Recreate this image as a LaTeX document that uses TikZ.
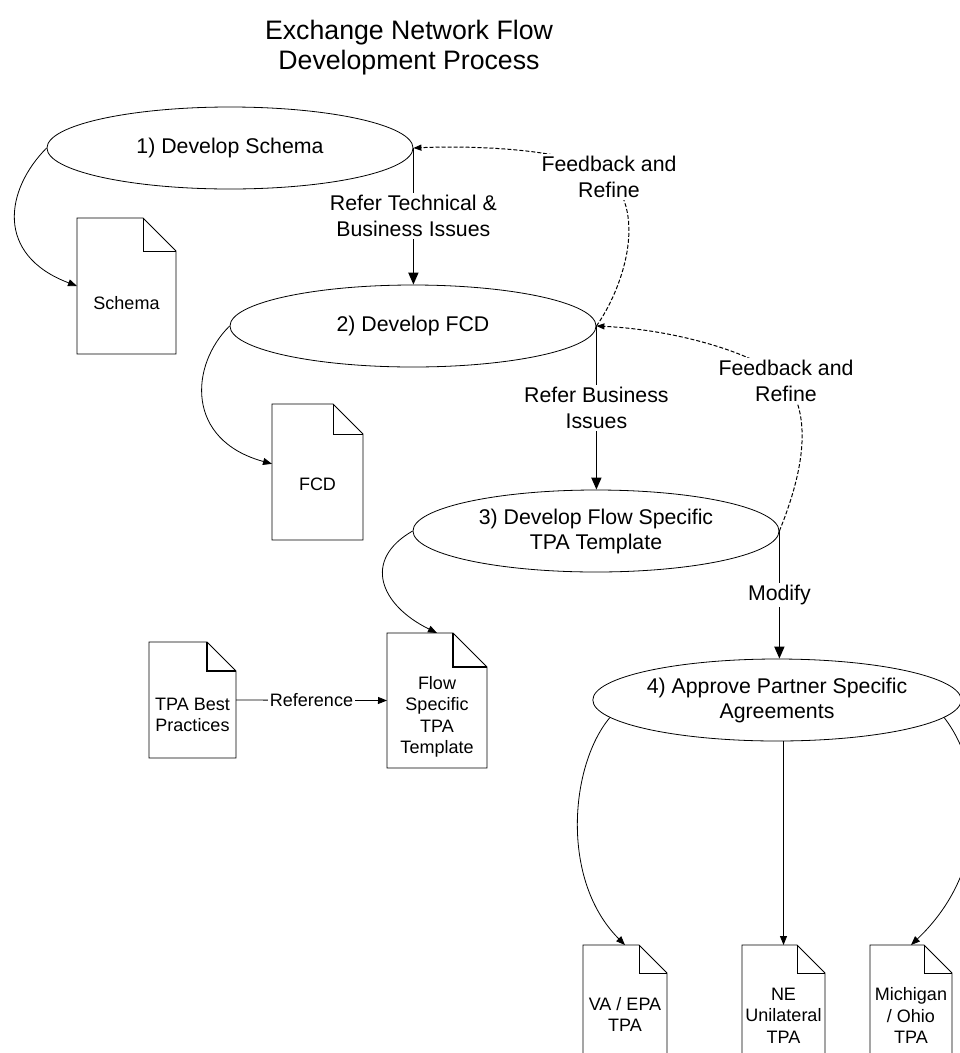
\documentclass[tikz,border=0pt]{standalone}
\usepackage{fontspec}
\setmainfont{Liberation Sans}
\usetikzlibrary{shapes.geometric,arrows.meta,calc}
\tikzset{
  proc/.style={ellipse, draw, line width=0.8pt, minimum width=366pt, minimum height=82pt,
    inner sep=0pt, align=center, font=\fontsize{21.3}{25}\selectfont},
  lbl/.style={align=center, font=\fontsize{21.3}{26}\selectfont, fill=white, inner sep=2pt},
  titlefont/.style={align=center, font=\fontsize{26.7}{30}\selectfont, inner sep=0pt},
  doctext/.style={align=center, font=\fontsize{18}{21.5}\selectfont, inner sep=0pt},
  docbox/.style={inner sep=0pt, outer sep=0pt, draw=none},
  docline/.style={line width=0.8pt},
  mainarrow/.style={line width=1.6pt, -{Triangle[length=12pt,width=10pt]}},
  curvearrow/.style={line width=0.8pt, -{Triangle[length=9pt,width=7pt]}},
  fbline/.style={line width=1pt, dash pattern=on 4pt off 2pt, -{Triangle[length=8pt,width=6pt]}},
}
% #1 fold line width, #2 node name, #3 fold size
\newcommand\docoutline[3][0.8pt]{%
  \draw[docline] (#2.north west) -- ($(#2.north east)+(-#3,0)$) -- ($(#2.north east)+(0,#3)$)
     -- (#2.south east) -- (#2.south west) -- cycle;
  \draw[line width=#1] ($(#2.north east)+(-#3,0)$) |- ($(#2.north east)+(0,#3)$);}
\begin{document}
\begin{tikzpicture}[x=1pt,y=-1pt]
\useasboundingbox (0,0) rectangle (960,1053);
\clip (0,0) rectangle (960,1053);

\node[titlefont] (title) at (409,48) {Exchange Network Flow\\Development Process};

% process ellipses
\node[proc] (e1) at (230,148) {1) Develop Schema};
\node[proc] (e2) at (413,326) {2) Develop FCD};
\node[proc] (e3) at (596,531) {3) Develop Flow Specific\\TPA Template};
\node[proc] (e4) at (777,700) {4) Approve Partner Specific\\Agreements};

% documents
\node[docbox, minimum width=99pt, minimum height=136pt] (schema) at (126.5,286) {};
\docoutline{schema}{33}
\node[doctext] (schema-t) at (126.5,303) {Schema};

\node[docbox, minimum width=91pt, minimum height=136pt] (fcd) at (317.5,472) {};
\docoutline{fcd}{30}
\node[doctext] (fcd-t) at (317.5,484) {FCD};

\node[docbox, minimum width=87pt, minimum height=116pt] (tpa) at (192.5,700) {};
\docoutline[1.6pt]{tpa}{29}
\node[doctext] (tpa-t) at (192.5,715) {TPA Best\\Practices};

\node[docbox, minimum width=100pt, minimum height=135pt] (flow) at (437,700.5) {};
\docoutline[1.6pt]{flow}{34}
\node[doctext] (flow-t) at (437,717) {Flow\\Specific\\TPA\\Template};

\node[docbox, minimum width=84pt, minimum height=112pt] (va) at (625,1001) {};
\docoutline{va}{28}
\node[doctext] (va-t) at (625,1014.5) {VA / EPA\\TPA};

\node[docbox, minimum width=83pt, minimum height=112pt] (ne) at (783.5,1001) {};
\docoutline{ne}{28}
\node[doctext] (ne-t) at (783.5,1015.5) {NE\\Unilateral\\TPA};

\node[docbox, minimum width=82pt, minimum height=112pt] (mi) at (911,1001) {};
\docoutline{mi}{28}
\node[doctext] (mi-t) at (911,1015.5) {Michigan\\/ Ohio\\TPA};

% main flow arrows
\draw[mainarrow] (e1.east) -- (e1.east |- e2.north)
  node[midway, lbl] {Refer Technical \&\\Business Issues};
\draw[mainarrow] (e2.east) -- (e2.east |- e3.north)
  node[midway, lbl] {Refer Business\\Issues};
\draw[mainarrow] (e3.east) -- (e3.east |- e4.north)
  node[midway, lbl] {Modify};

% feedback loops
\coordinate (fb1c) at (609,177);
\draw[fbline] (e2.east) .. controls (622,290) and (648,215) .. (fb1c)
  .. controls (585,150) and (480,145) .. (e1.east);
\node[lbl] (fb1) at (fb1c) {Feedback and\\Refine};

\coordinate (fb2c) at (786,381);
\draw[fbline] (e3.east) .. controls (800,480) and (815,420) .. (fb2c)
  .. controls (760,355) and (680,330) .. (e2.east);
\node[lbl] (fb2) at (fb2c) {Feedback and\\Refine};

% outputs
\draw[curvearrow] (e1.west) .. controls (5,190) and (-5,255) .. (schema.west);
\draw[curvearrow] (e2.west) .. controls (190,365) and (185,440) .. ($(fcd.north west)!0.44!(fcd.south west)$);
\draw[curvearrow] (e3.west) .. controls (362,560) and (380,605) .. (flow.north);
\draw[curvearrow] (tpa.east) -- (flow.west)
  node[midway, doctext, fill=white, inner sep=1.5pt] {Reference};
\draw[curvearrow] (e4.186) .. controls (570,765) and (560,880) .. (va.north);
\draw[curvearrow] (ne.north |- e4.south) -- (ne.north);
\draw[curvearrow] (e4.354) .. controls (985,770) and (990,870) .. (mi.north);
\end{tikzpicture}
\end{document}
